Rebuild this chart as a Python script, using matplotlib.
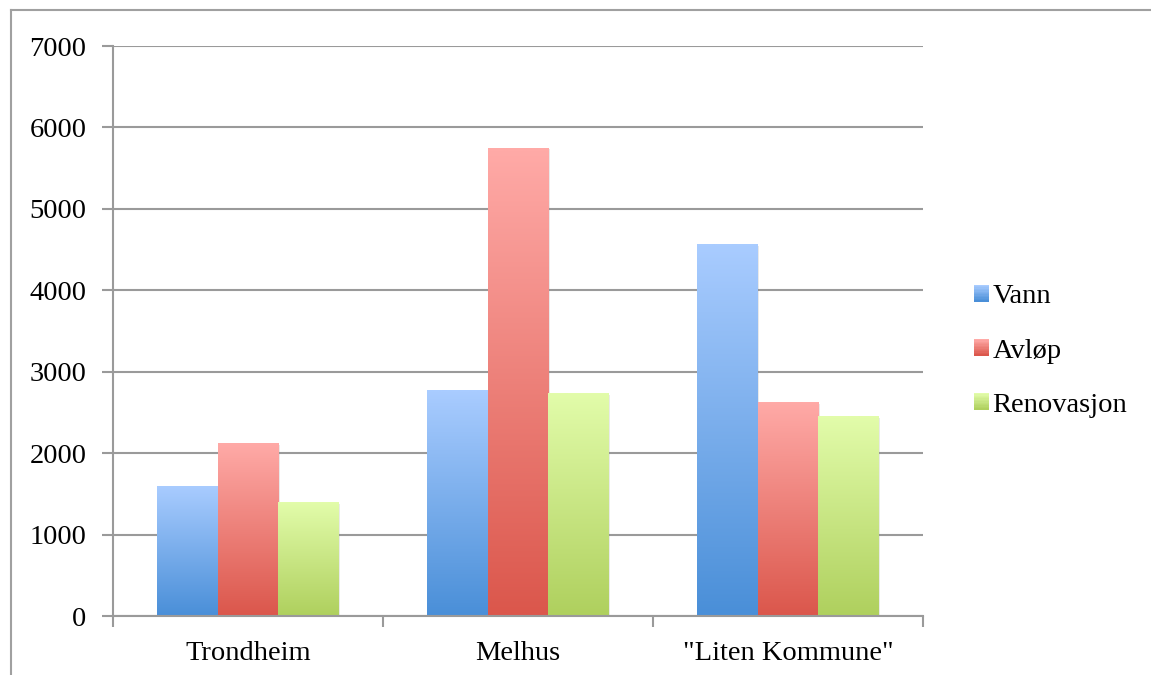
import matplotlib.pyplot as plt
import matplotlib.patheffects as pe
import numpy as np
from matplotlib.lines import Line2D
from matplotlib.patches import Rectangle
from matplotlib.legend_handler import HandlerBase

plt.rcParams['font.family'] = ['Liberation Serif', 'DejaVu Serif']

kommuner = ['Trondheim', 'Melhus', '"Liten Kommune"']
serier = ['Vann', 'Avløp', 'Renovasjon']
vann = [1600, 2775, 4570]
avlop = [2125, 5750, 2630]
renovasjon = [1400, 2740, 2455]
yticks = [0, 1000, 2000, 3000, 4000, 5000, 6000, 7000]

# top colour, bottom colour for each series
farger = {
    'Vann': ('#a9ccff', '#4a8fd8'),
    'Avløp': ('#ffaaa7', '#db574c'),
    'Renovasjon': ('#e2fcaa', '#afd05e'),
}


def ramp(top, bottom, n=64):
    a = np.array(plt.matplotlib.colors.to_rgb(top))
    b = np.array(plt.matplotlib.colors.to_rgb(bottom))
    t = np.linspace(0, 1, n)[:, None]
    return (a * (1 - t) + b * t)[:, None, :]


class GradientHandler(HandlerBase):
    def __init__(self, top, bottom):
        super().__init__()
        self.top, self.bottom = top, bottom

    def create_artists(self, legend, orig_handle, xdescent, ydescent,
                       width, height, fontsize, trans):
        cols = ramp(self.top, self.bottom, 12)[:, 0, :]
        n = len(cols)
        out = []
        for i, c in enumerate(cols):
            y0 = -ydescent + height * (1 - (i + 1) / n)
            out.append(Rectangle((-xdescent, y0), width, height / n + 0.2,
                                 facecolor=c, edgecolor='none',
                                 transform=trans))
        return out


fig = plt.figure(figsize=(11.51, 6.75), dpi=100)
ax = fig.add_axes([113 / 1151, 59 / 675, 810 / 1151, 570 / 675])

x = np.arange(len(kommuner))
bw = 0.224
grid_c = '#9a9a9a'
fs = 20.5

for yv in yticks:
    ax.axhline(yv, color=grid_c, lw=1.5, zorder=1)

handles = []
for i, (navn, verdier) in enumerate(zip(serier, [vann, avlop, renovasjon])):
    bars = ax.bar(x + (i - 1) * bw, verdier, bw, color='white',
                  edgecolor='none', zorder=2,
                  path_effects=[pe.SimplePatchShadow(offset=(1.2, -1.2),
                                                     shadow_rgbFace='#888888',
                                                     alpha=0.18),
                                pe.Normal()])
    top, bottom = farger[navn]
    img = ramp(top, bottom)
    for b in bars:
        im = ax.imshow(img, extent=[b.get_x(), b.get_x() + b.get_width(),
                                    0, b.get_height()],
                       aspect='auto', zorder=3, interpolation='bilinear')
        im.set_clip_path(b)
    handles.append(Rectangle((0, 0), 1, 1, label=navn))

ax.set_xlim(-0.5, 2.5)
ax.set_ylim(0, 7000)
ax.set_aspect('auto')

ax.set_yticks(yticks)
ax.set_xticks(x)
ax.set_xticklabels(kommuner)
ax.set_xticks([-0.5, 0.5, 1.5, 2.5], minor=True)
ax.tick_params(axis='y', length=8, width=1.5, color=grid_c, pad=11,
               labelsize=fs)
ax.tick_params(axis='x', which='major', length=0, pad=18, labelsize=fs)
ax.tick_params(axis='x', which='minor', length=8, width=1.5, color=grid_c)

for s in ['top', 'right']:
    ax.spines[s].set_visible(False)
for s in ['left', 'bottom']:
    ax.spines[s].set_color(grid_c)
    ax.spines[s].set_linewidth(1.5)
    ax.spines[s].set_zorder(4)

leg = fig.legend(handles=handles, loc='center left',
                 bbox_to_anchor=(974 / 1151, 1 - 351 / 675),
                 frameon=False, fontsize=fs, handlelength=0.53,
                 handleheight=0.53, handletextpad=0.12, labelspacing=1.02,
                 borderpad=0, borderaxespad=0,
                 handler_map={h: GradientHandler(*farger[h.get_label()])
                              for h in handles})

# outer chart frame
fig.add_artist(Line2D([11 / 1151, 11 / 1151], [0, 1 - 10 / 675],
                      transform=fig.transFigure, color='#a0a0a0', lw=1.5))
fig.add_artist(Line2D([11 / 1151, 1], [1 - 10 / 675, 1 - 10 / 675],
                      transform=fig.transFigure, color='#a0a0a0', lw=1.5))

fig.savefig('out.png', dpi=100)
